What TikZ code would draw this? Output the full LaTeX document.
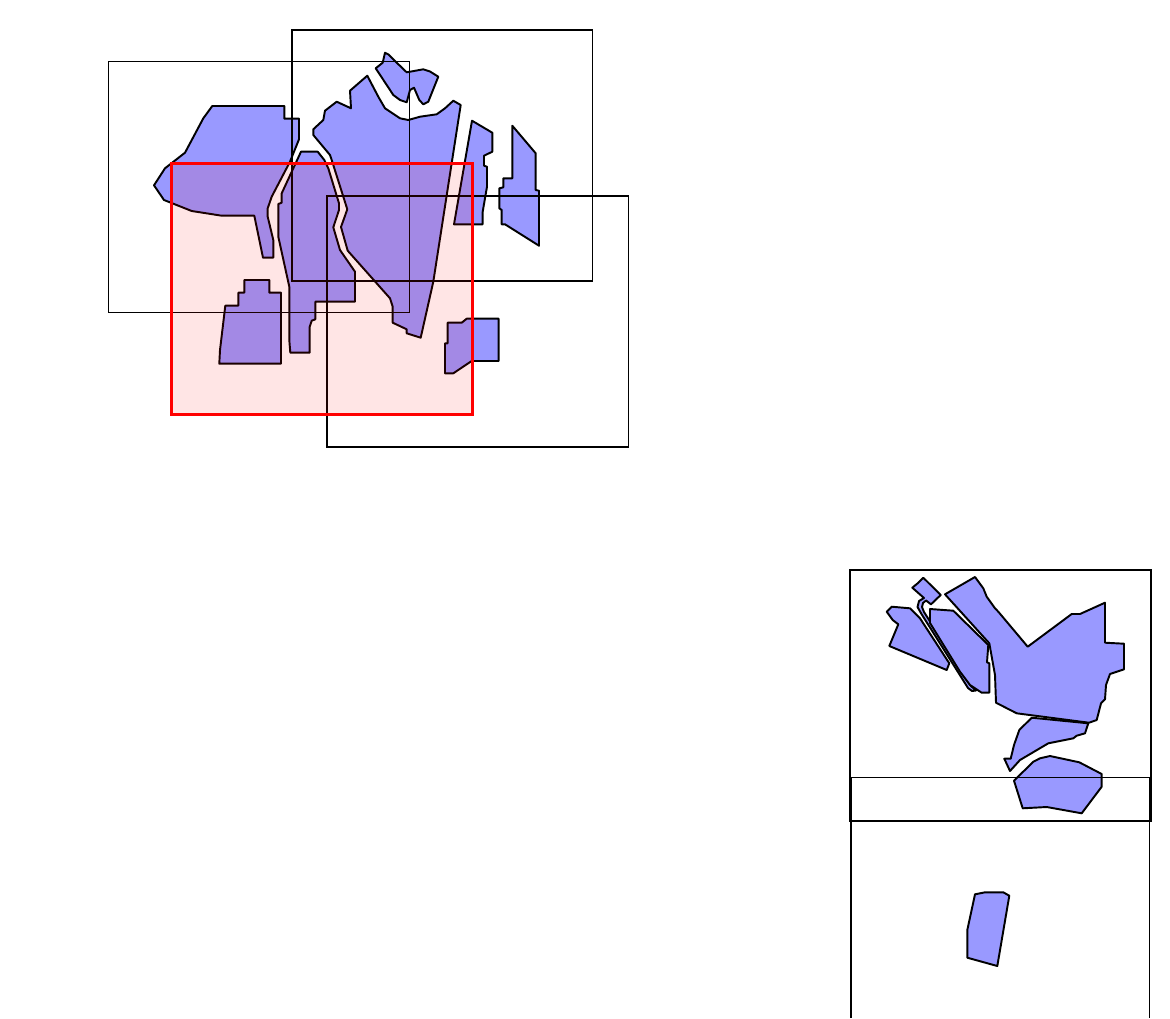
\documentclass[tikz,border=0pt]{standalone}
\usepackage{xcolor}
\definecolor{islandBlue}{HTML}{9999FF}
\definecolor{tileRed}{HTML}{FF0000}
\usepackage{tikz}
\tikzset{
  island/.style={fill=islandBlue, draw=black, line width=1.1pt, line join=round},
  tile/.style={draw=black, line width=1.1pt},
  redtile/.style={draw=tileRed, fill=tileRed, fill opacity=0.1, line width=1.7pt}
}

\begin{document}
\begin{tikzpicture}[x=0.02cm, y=-0.02cm]
  \useasboundingbox (0,0) rectangle (1170,1018);
  % Upper group of islands
  \draw[island] (212.3,106) -- (284.3,106) -- (284.3,118.7) -- (299,118.7) -- (299,139.3) -- (290,161.7) -- (271.7,196.7) -- (267.7,208.3) -- (267.7,216.7) -- (273.3,240) -- (273.3,257.7) -- (263,257.7) -- (254.3,215.7) -- (221.7,215.7) -- (191.7,211) -- (168.3,201.7) -- (164,200) -- (154,185.3) -- (165,168.3) -- (185,152.7) -- (203.3,118.3) -- cycle;
  \draw[island] (301,151.7) -- (317.7,151.7) -- (324.3,160) -- (328.3,168.3) -- (339,203.3) -- (339,210) -- (333.3,227.3) -- (340,250) -- (355,271.7) -- (355,301.7) -- (315.3,301.7) -- (315.3,319.3) -- (311.7,320.7) -- (309.7,326.7) -- (309.7,352.7) -- (290.3,352.7) -- (289.3,340) -- (289.3,286.7) -- (278.3,236.7) -- (278.3,204) -- (281.7,202.7) -- (281.7,193.3) -- (293.3,168.3) -- cycle;
  \draw[island] (244.3,280) -- (269.3,280) -- (269.3,292.7) -- (281,292.7) -- (281,363.7) -- (219.3,363.7) -- (220,350) -- (225.3,305.7) -- (238.3,305.7) -- (238.3,292.7) -- (244.3,292.7) -- cycle;
  \draw[island] (367.3,75.7) -- (378.3,96.7) -- (385,108.3) -- (400,118.3) -- (408.3,120) -- (420,116.7) -- (436.7,114.3) -- (445,108.3) -- (453.3,100.7) -- (460.7,105) -- (433.3,281.7) -- (420.7,337.7) -- (406.7,333.3) -- (406.7,329.3) -- (392.7,322.7) -- (392.7,306.7) -- (390,298.3) -- (347.7,250.7) -- (341,227) -- (347.3,209.3) -- (331.7,160) -- (330,155) -- (313.3,135) -- (313.3,129.3) -- (323.3,120) -- (325,110.7) -- (336.7,101.7) -- (351,108.3) -- (350,90.7) -- cycle;
  \draw[island] (385,52.7) -- (388.5,54.5) -- (396,62) -- (406.7,72.3) -- (423.3,69.3) -- (430,71.5) -- (438.3,76.7) -- (428.3,101.7) -- (423.3,104.3) -- (419.3,100) -- (414,87.7) -- (410,90) -- (406.7,102.3) -- (400,100) -- (393.3,95) -- (375.7,68.3) -- (382.7,62.7) -- cycle;
  \draw[island] (472,120.7) -- (492.3,132.7) -- (492.3,151.7) -- (484,155.7) -- (484,165.7) -- (487,166.7) -- (487,186.7) -- (484.7,200) -- (482.7,211.7) -- (482.7,224.3) -- (454,224.3) -- cycle;
  \draw[island] (512.3,125.7) -- (535.7,153.3) -- (535.7,190) -- (539,190.7) -- (539,245.7) -- (505,224.3) -- (501.7,224.3) -- (501.7,210) -- (499.3,208.3) -- (499.3,188.3) -- (503.3,187.3) -- (503.3,178.3) -- (512.3,178.3) -- cycle;
  \draw[island] (447.7,322.7) -- (461.7,322.7) -- (466.7,318.7) -- (498.7,318.7) -- (498.7,361) -- (471.7,361) -- (453.3,373.3) -- (445,373.3) -- (445,343.3) -- (447.7,343.3) -- cycle;
  % Lower group of islands
  \draw[island] (923.3,577.7) -- (940.7,595) -- (931,604.3) -- (926,600.5) -- (923,603) -- (922,607) -- (924,612) -- (971,686) -- (976,690.5) -- (972,691) -- (968,688) -- (921.5,614) -- (917.5,607) -- (919,601) -- (924,598) -- (912.3,587.7) -- (918,583) -- cycle;
  \draw[island] (886.7,611.7) -- (891.7,606.7) -- (910,608.3) -- (920,618.3) -- (949.3,663.3) -- (946.7,670) -- (889.3,646) -- (898.3,624.3) -- (892.7,620) -- cycle;
  \draw[island] (930,609) -- (953.3,610.7) -- (988.3,645) -- (987,662.3) -- (989.3,663.3) -- (989.3,692.7) -- (981.7,692.7) -- (970,685) -- (960,671.7) -- (930,623) -- cycle;
  \draw[island] (945,594.3) -- (975,577) -- (983.3,588.3) -- (986.7,596.7) -- (995,608.3) -- (998.3,611.7) -- (1027.7,646.7) -- (1071.7,614) -- (1080,614) -- (1105,602.7) -- (1105,642.7) -- (1124,643.7) -- (1124,669.3) -- (1110,674) -- (1106,685) -- (1105,699.3) -- (1101,703.3) -- (1096.7,720) -- (1089,722.7) -- (1016.7,713.3) -- (996,702.7) -- (995,675) -- (989.3,643.3) -- cycle;
  \draw[island] (1031.7,717.7) -- (1088.3,723.3) -- (1085,733.3) -- (1076.7,735.7) -- (1073.3,738.3) -- (1048.3,743.3) -- (1020,760) -- (1010,771) -- (1004.3,758.7) -- (1010.7,758.7) -- (1014,745) -- (1019.3,730) -- cycle;
  \draw[island] (1014,780.7) -- (1033.3,761.7) -- (1040,758.3) -- (1050,756) -- (1079.3,762.3) -- (1101.7,774) -- (1101.7,786.7) -- (1081.7,813.3) -- (1046.7,807) -- (1022.7,808.3) -- cycle;
  \draw[island] (975,894.3) -- (985,892.3) -- (1003.3,892.3) -- (1009.3,895.7) -- (997.3,966) -- (967.3,957.7) -- (967.3,930) -- cycle;
  % Tiles
  \draw[tile] (108.5,61.5) rectangle (409.5,312.5);
  \draw[tile] (292,30) rectangle (592.5,281);
  \draw[tile] (327,196) rectangle (628.5,447);
  \draw[tile] (850,570) rectangle (1151,821);
  \draw[tile] (851,1018) -- (851,777.5) -- (1149.5,777.5) -- (1149.5,1018);
  % Highlighted tile
  \draw[redtile] (171.5,163.5) rectangle (472.5,414.5);
\end{tikzpicture}
\end{document}
